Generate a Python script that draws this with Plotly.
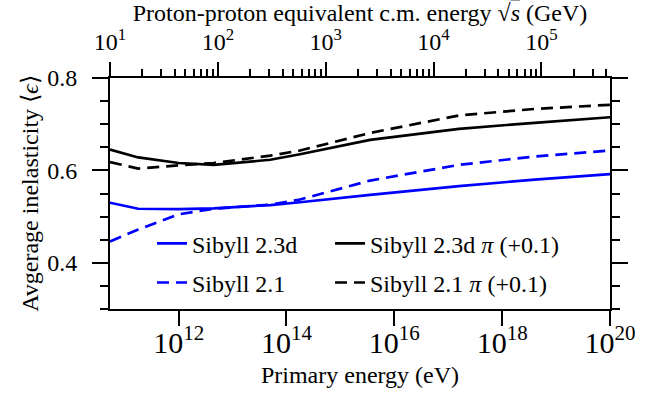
import math
import plotly.graph_objects as go

# Primary energies (eV) at which the average inelasticity is tabulated
energy_ev = [5.33e10, 1.78e11, 1.0e12, 4.47e12, 5.0e13, 1.78e14, 3.55e15, 1.58e17, 4.0e18, 1.0e20]

# Proton-air average inelasticity
sib23d_p = [0.530, 0.517, 0.516, 0.518, 0.525, 0.531, 0.547, 0.566, 0.580, 0.592]
sib21_p = [0.446, 0.472, 0.505, 0.517, 0.526, 0.537, 0.578, 0.612, 0.630, 0.643]

# Pion-air average inelasticity (plotted with an offset of +0.1)
sib23d_pi = [0.545, 0.528, 0.516, 0.512, 0.523, 0.535, 0.566, 0.590, 0.603, 0.615]
sib21_pi = [0.518, 0.504, 0.511, 0.516, 0.532, 0.543, 0.581, 0.619, 0.633, 0.642]
PION_SHIFT = 0.1

# Tick labels of the centre-of-mass energy axis (GeV)
sqrts_ticks = [1e1, 1e2, 1e3, 1e4, 1e5]
sqrts_ticktext = ["10<sup>1</sup>", "10<sup>2</sup>", "10<sup>3</sup>", "10<sup>4</sup>", "10<sup>5</sup>"]

# Axis ranges
E_MAX_EV = 1e20
SQRTS_MIN_GEV = 10.0
M_PROTON_GEV = 0.93827


def sqrt_s_gev(e_ev):
    """Proton-proton equivalent c.m. energy for a fixed-target collision."""
    return math.sqrt(2.0 * M_PROTON_GEV * e_ev / 1e9)


e_min_ev = SQRTS_MIN_GEV ** 2 / (2.0 * M_PROTON_GEV) * 1e9
x_range = [math.log10(e_min_ev), math.log10(E_MAX_EV)]
x2_range = [math.log10(sqrt_s_gev(e_min_ev)), math.log10(sqrt_s_gev(E_MAX_EV))]

# minor ticks 2..9 within each decade of sqrt(s)
sqrts_minor = [m * 10 ** d for d in range(1, 6) for m in range(2, 10)
               if m * 10 ** d <= sqrt_s_gev(E_MAX_EV)]

FONT = "'Liberation Serif', 'Times New Roman', Times, serif"
FS = 24
BLUE = "#0000ff"
BLACK = "#000000"
LW = 2.7
DASH = "12px,7px"

fig = go.Figure()
fig.add_trace(go.Scatter(x=energy_ev, y=sib23d_p, mode="lines", name="Sibyll 2.3d",
                         line=dict(color=BLUE, width=LW), legend="legend", legendgroup="a"))
fig.add_trace(go.Scatter(x=energy_ev, y=sib21_p, mode="lines", name="Sibyll 2.1",
                         line=dict(color=BLUE, width=LW, dash=DASH), legend="legend", legendgroup="b"))
fig.add_trace(go.Scatter(x=energy_ev, y=[v + PION_SHIFT for v in sib23d_pi], mode="lines",
                         name="Sibyll 2.3d <i>π</i> (+0.1)",
                         line=dict(color=BLACK, width=LW), legend="legend2", legendgroup="c"))
fig.add_trace(go.Scatter(x=energy_ev, y=[v + PION_SHIFT for v in sib21_pi], mode="lines",
                         name="Sibyll 2.1 <i>π</i> (+0.1)",
                         line=dict(color=BLACK, width=LW, dash=DASH), legend="legend2", legendgroup="d"))

axis_common = dict(showgrid=False, zeroline=False, showline=True, linecolor="black", linewidth=2,
                   tickcolor="black", tickwidth=1.5, ticks="outside", automargin=False,
                   tickfont=dict(family=FONT, size=FS, color="black"))

legend_common = dict(xanchor="left", yanchor="top", bgcolor="rgba(0,0,0,0)", borderwidth=0,
                     tracegroupgap=5, font=dict(family=FONT, size=FS, color="black"),
                     itemwidth=30)

fig.update_layout(
    width=657, height=402,
    margin=dict(l=110, r=47, t=78, b=93),
    paper_bgcolor="white", plot_bgcolor="white",
    font=dict(family=FONT, size=FS, color="black"),
    showlegend=True,
    xaxis=dict(type="log", range=x_range, dtick=2, exponentformat="power", ticklen=15,
               ticklabelstandoff=-8,
               title=dict(text="Primary energy (eV)", font=dict(family=FONT, size=FS), standoff=8),
               **axis_common),
    xaxis2=dict(type="log", overlaying="x", side="top", range=x2_range,
                tickmode="array", tickvals=sqrts_ticks, ticktext=sqrts_ticktext, ticklen=14,
                ticklabelstandoff=2,
                minor=dict(ticks="outside", tickmode="array", tickvals=sqrts_minor, ticklen=7,
                           tickcolor="black", tickwidth=1.5),
                title=dict(text="Proton-proton equivalent c.m. energy "
                                "√<span style='text-decoration:overline'><i>s</i></span> (GeV)",
                           font=dict(family=FONT, size=FS), standoff=6),
                **axis_common),
    yaxis=dict(range=[0.3, 0.8], tick0=0.4, dtick=0.2, tickformat=".1f", ticklen=16,
               mirror="ticks", ticklabelstandoff=10,
               minor=dict(ticks="outside", dtick=0.05, ticklen=8, tickcolor="black", tickwidth=1.5),
               title=dict(text="Avgerage inelasticity ⟨<i>ϵ</i>⟩", font=dict(family=FONT, size=FS),
                          standoff=2),
               **axis_common),
    legend=dict(x=0.084, y=0.38, **legend_common),
    legend2=dict(x=0.44, y=0.38, **legend_common),
)

# keep the top axis drawn even though no trace is attached to it
fig.add_trace(go.Scatter(x=[sqrt_s_gev(e_min_ev)], y=[None], xaxis="x2", showlegend=False,
                         hoverinfo="skip"))

fig.write_html("out.html")
